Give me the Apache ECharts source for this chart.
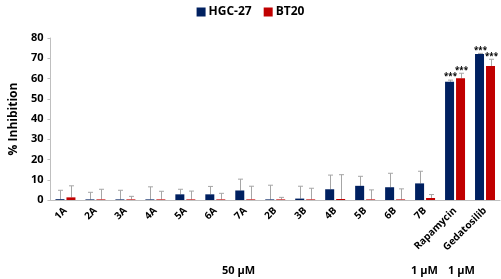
<!DOCTYPE html>
<html>
<head>
<meta charset="utf-8">
<script src="https://cdn.jsdelivr.net/npm/echarts@6/dist/echarts.min.js"></script>
<style>
  html, body { margin: 0; padding: 0; background: #fff; }
  #chart { width: 501px; height: 279px; }
</style>
</head>
<body>
<div id="chart"></div>
<script>
const categories = ['1A', '2A', '3A', '4A', '5A', '6A', '7A', '2B', '3B', '4B', '5B', '6B', '7B', 'Rapamycin', 'Gedatosilib']
const hgcValues = [0.4, 0.3, 0.3, 0.3, 2.8, 2.8, 4.7, 0.3, 0.7, 5.3, 7.0, 6.3, 8.2, 58.4, 72.1]
const hgcErrors = [4.4, 3.5, 4.5, 6.2, 2.5, 3.9, 5.6, 7.0, 6.1, 7.0, 4.7, 6.9, 6.0, 0.8, 0.3]
const bt20Values = [1.3, 0.3, 0.3, 0.3, 0.3, 0.3, 0.3, 0.3, 0.3, 0.5, 0.3, 0.3, 1.0, 60.1, 66.2]
const bt20Errors = [5.7, 5.0, 1.5, 4.0, 4.1, 3.0, 6.5, 1.0, 5.5, 12.0, 4.7, 5.2, 1.7, 2.5, 3.3]
const hgcSig = ['', '', '', '', '', '', '', '', '', '', '', '', '', '***', '***']
const bt20Sig = ['', '', '', '', '', '', '', '', '', '', '', '', '', '***', '***']
const yTicks = { min: 0, max: 80, interval: 10 }

const BLUE = '#002060'
const RED = '#c00000'
const BAR_W = 9
const FONT = '"Open Sans", "Noto Sans", sans-serif'

function errorSeries(name, values, errors, sig, offset) {
  const data = values.map((v, i) => [i, v, v + errors[i], sig[i]])
  return {
    name: name,
    type: 'custom',
    z: 1,
    silent: true,
    data: data,
    renderItem: function (params, api) {
      const base = api.coord([api.value(0), api.value(1)])
      const top = api.coord([api.value(0), api.value(2)])
      const x = Math.round(base[0] + offset) + 0.5
      const children = [
        { type: 'line', shape: { x1: x, y1: base[1], x2: x, y2: top[1] }, style: { stroke: '#a6a6a6', lineWidth: 1 } },
        { type: 'line', shape: { x1: x - 2.5, y1: top[1], x2: x + 2.5, y2: top[1] }, style: { stroke: '#a6a6a6', lineWidth: 1 } },
      ]
      const star = data[params.dataIndex][3]
      if (star) {
        // 显著性标记
        children.push({
          type: 'text',
          style: {
            text: star, x: x, y: top[1] + 1, align: 'center', verticalAlign: 'bottom',
            font: 'bold 8px ' + FONT, fill: '#000',
          },
        })
      }
      return { type: 'group', children: children }
    },
  }
}

const chart = echarts.init(document.getElementById('chart'))
const option = {
  animation: false,
  legend: {
    top: 1,
    left: 'center',
    itemWidth: 9,
    itemHeight: 9,
    itemGap: 12,
    icon: 'rect',
    data: ['HGC-27', 'BT20'],
    textStyle: { fontFamily: FONT, fontWeight: 'bold', fontSize: 12, color: '#000', padding: [0, 0, 0, -2] },
  },
  grid: { left: 42, right: 1, top: 38, bottom: 79, containLabel: false },
  xAxis: {
    type: 'category',
    data: categories,
    axisLine: { lineStyle: { color: '#bfbfbf', width: 1 } },
    axisTick: { show: false },
    axisLabel: {
      rotate: 45, interval: 0, margin: 9, color: '#000',
      fontFamily: FONT, fontWeight: 'bold', fontSize: 10,
    },
  },
  yAxis: {
    type: 'value',
    min: yTicks.min,
    max: yTicks.max,
    interval: yTicks.interval,
    name: '% Inhibition',
    nameLocation: 'middle',
    nameGap: 27,
    nameTextStyle: { fontFamily: FONT, fontWeight: 'bold', fontSize: 12, color: '#000' },
    axisLine: { show: true, lineStyle: { color: '#bfbfbf' } },
    axisTick: { show: true, length: 3, lineStyle: { color: '#bfbfbf' } },
    splitLine: { show: false },
    axisLabel: { margin: 7, color: '#000', fontFamily: FONT, fontWeight: 'bold', fontSize: 11 },
  },
  series: [
    { name: 'HGC-27', type: 'bar', data: hgcValues, barWidth: BAR_W, barGap: '22%', itemStyle: { color: BLUE }, z: 2 },
    { name: 'BT20', type: 'bar', data: bt20Values, barWidth: BAR_W, barGap: '22%', itemStyle: { color: RED }, z: 2 },
    errorSeries('HGC-27 err', hgcValues, hgcErrors, hgcSig, -5.5),
    errorSeries('BT20 err', bt20Values, bt20Errors, bt20Sig, 5.5),
  ],
  graphic: [
    { type: 'text', left: 222, top: 265, style: { text: '50 µM', font: 'bold 11px ' + FONT, fill: '#000' } },
    { type: 'text', left: 411, top: 265, style: { text: '1 µM', font: 'bold 11px ' + FONT, fill: '#000' } },
    { type: 'text', left: 448, top: 265, style: { text: '1 µM', font: 'bold 11px ' + FONT, fill: '#000' } },
  ],
}
chart.setOption(option)
</script>
</body>
</html>
